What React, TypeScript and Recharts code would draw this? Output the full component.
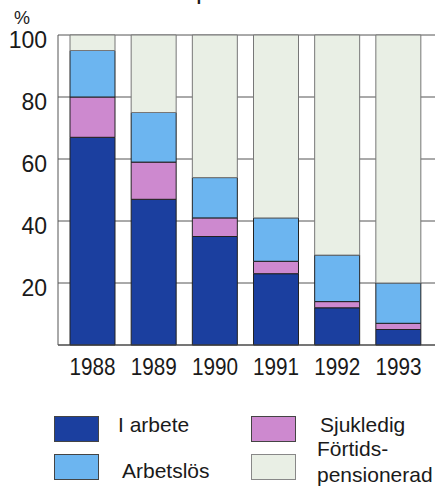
import { BarChart, Bar, XAxis, YAxis, CartesianGrid } from 'recharts'

// andel (%) per år
const years = ['1988', '1989', '1990', '1991', '1992', '1993']
const iArbete = [67, 47, 35, 23, 12, 5]
const sjukledig = [13, 12, 6, 4, 2, 2]
const arbetslos = [15, 16, 13, 14, 15, 13]
const fortids = [5, 25, 46, 59, 71, 80]
const yTicks = [20, 40, 60, 80, 100]

const seriesKeys = ['iArbete', 'sjukledig', 'arbetslos', 'fortids']
const seriesNames = [['I arbete'], ['Sjukledig'], ['Arbetslös'], ['Förtids-', 'pensionerad']]
const seriesColors = ['#1b3f9f', '#cd89cf', '#6cb5f0', '#e9efe5']

const data = years.map((year, i) => ({
  year,
  iArbete: iArbete[i],
  sjukledig: sjukledig[i],
  arbetslos: arbetslos[i],
  fortids: fortids[i],
}))

const FONT = '"Liberation Sans", Arial, sans-serif'

const XTick = ({ x, y, payload }: any) => (
  <text x={x} y={y + 30} textAnchor="middle" fontSize={23} fill="#1a1a1a" fontFamily={FONT}
    textLength={46} lengthAdjust="spacingAndGlyphs">
    {payload.value}
  </text>
)

const YTick = ({ x, y, payload }: any) => (
  <text x={x - 11} y={y + 4.5} dy="0.355em" textAnchor="end" fontSize={23} fill="#1a1a1a" fontFamily={FONT}>
    {payload.value}
  </text>
)

// legend: 2 kolumner x 2 rader (ruta + textens baslinjer)
const legendSlots = [
  { x: 54, y: 416, tx: 118, ty: [432] },
  { x: 251, y: 416, tx: 320, ty: [432] },
  { x: 54, y: 454, tx: 122, ty: [478] },
  { x: 251, y: 454, tx: 317, ty: [456, 482] },
]

export default function App() {
  return (
    <div style={{ position: 'absolute', left: 0, top: 0, width: 435, height: 493, overflow: 'hidden', background: '#fff', fontFamily: FONT }}>
      {/* avklippt rubrik + enhet */}
      <svg width={435} height={30} style={{ position: 'absolute', left: 0, top: 0 }}>
        <text x={196} y={-1} fontSize={26} fontFamily={FONT} fill="#1a1a1a">p</text>
        <text x={14} y={23.5} fontSize={18} fontFamily={FONT} fill="#1a1a1a">%</text>
      </svg>

      <BarChart width={435} height={380} data={data} margin={{ top: 35, right: 0, left: 0, bottom: 0 }} barSize={45}>
        <CartesianGrid vertical={false} stroke="#555" strokeWidth={1} />
        <XAxis dataKey="year" height={35} tick={<XTick />} tickLine={false} tickSize={0} tickMargin={0}
          axisLine={{ stroke: '#444', strokeWidth: 1 }} padding={{ left: 4, right: 6 }} />
        <YAxis width={58} domain={[0, 100]} ticks={yTicks} tick={<YTick />} tickLine={false} tickSize={0} tickMargin={0}
          axisLine={{ stroke: '#555', strokeWidth: 1 }} />
        {seriesKeys.map((k, i) => (
          <Bar key={k} dataKey={k} stackId="a" fill={seriesColors[i]}
            stroke={i === 3 ? '#777' : '#222'} strokeWidth={1} isAnimationActive={false} />
        ))}
      </BarChart>

      <svg width={435} height={113} viewBox="0 380 435 113" style={{ position: 'absolute', left: 0, top: 380 }}>
        {seriesNames.map((lines, i) => {
          const s = legendSlots[i]
          return (
            <g key={i}>
              <rect x={s.x + 0.5} y={s.y + 0.5} width={44} height={25} fill={seriesColors[i]} stroke={i === 3 ? '#888' : '#444'} />
              {lines.map((t, j) => (
                <text key={t} x={s.tx} y={s.ty[j]} fontSize={21} fontFamily={FONT} fill="#1a1a1a">{t}</text>
              ))}
            </g>
          )
        })}
      </svg>
    </div>
  )
}
